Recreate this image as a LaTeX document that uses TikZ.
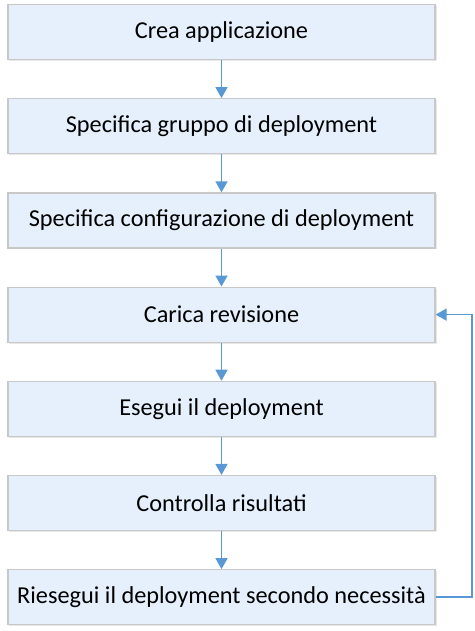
\documentclass[tikz,border=0pt]{standalone}
\usepackage{fontspec}
\setmainfont{Carlito}
\usetikzlibrary{positioning,arrows.meta,shadows}

\definecolor{boxfill}{RGB}{229,240,252}
\definecolor{boxline}{RGB}{200,200,200}
\definecolor{flowblue}{RGB}{88,152,212}

\begin{document}
\begin{tikzpicture}[x=1bp, y=1bp,
  stepbox/.style={draw=boxline, fill=boxfill, line width=1.2bp,
    minimum width=427bp, minimum height=55bp, inner sep=0pt,
    font=\fontsize{24.3bp}{28bp}\selectfont,
    drop shadow={opacity=0.18, shadow xshift=1.5bp, shadow yshift=-1.5bp}},
  flow/.style={draw=flowblue, line width=1.6bp, -{Triangle[width=12bp,length=11bp]}},
  node distance=38bp]

\useasboundingbox (0,0) rectangle (475,-631);

% steps
\node[stepbox] (crea) at (221.5,-32) {Crea applicazione};
\node[stepbox, below=of crea] (gruppo) {Specifica gruppo di deployment};
\node[stepbox, below=of gruppo] (config) {Specifica configurazione di deployment};
\node[stepbox, below=of config] (carica) {Carica revisione};
\node[stepbox, below=of carica] (esegui) {Esegui il deployment};
\node[stepbox, below=of esegui] (controlla) {Controlla risultati};
\node[stepbox, below=of controlla] (riesegui) {Riesegui il deployment secondo necessità};

% connectors
\draw[flow] (crea) -- (gruppo);
\draw[flow] (gruppo) -- (config);
\draw[flow] (config) -- (carica);
\draw[flow] (carica) -- (esegui);
\draw[flow] (esegui) -- (controlla);
\draw[flow] (controlla) -- (riesegui);

% loop back
\coordinate (ritorno) at (472,0);
\draw[flow] (riesegui.east) -- (riesegui.east -| ritorno) -- (carica.east -| ritorno) -- (carica.east);

\end{tikzpicture}
\end{document}
